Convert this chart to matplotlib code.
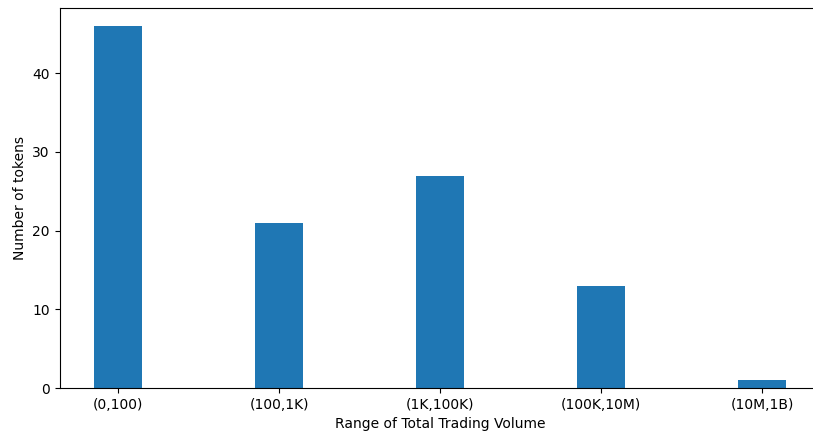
import numpy as np
import matplotlib
matplotlib.use('Agg')
import matplotlib.pyplot as plt

# Token counts per total trading volume bucket
ranges = ['(0,100)', '(100,1K)', '(1K,100K)', '(100K,10M)', '(10M,1B)']
counts = [46, 21, 27, 13, 1]

fig = plt.figure(figsize=(8.13, 4.34), dpi=100)
ax = fig.add_axes([59.5/813, 46/434, (821-59.5)/813, (388-8)/434])

x = np.arange(len(ranges))
ax.bar(x, counts, width=0.3, color='#1f77b4')
ax.set_xticks(x)
ax.set_xticklabels(ranges)
ax.set_xlabel('Range of Total Trading Volume')
ax.set_ylabel('Number of tokens')

fig.savefig('out.png', dpi=100)
